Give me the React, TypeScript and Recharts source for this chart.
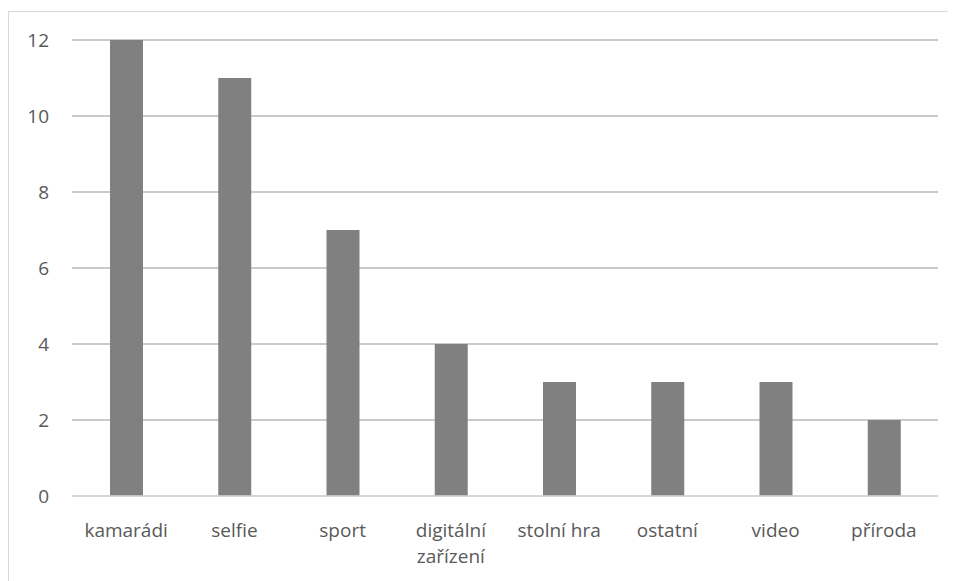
import React from "react";
import { BarChart, Bar, XAxis, YAxis, CartesianGrid } from "recharts";

const categories = [
  "kamarádi",
  "selfie",
  "sport",
  "digitální zařízení",
  "stolní hra",
  "ostatní",
  "video",
  "příroda",
];
const counts = [12, 11, 7, 4, 3, 3, 3, 2];
const yTicks = [0, 2, 4, 6, 8, 10, 12];

const data = categories.map((name, i) => ({ name, value: counts[i] }));

const FONT = "'Open Sans', sans-serif";
const TEXT_COLOR = "#595959";
const MAX_CHARS = 12;

// greedy word wrap by character count
function wrap(label: string): string[] {
  const words = label.split(" ");
  const lines: string[] = [];
  let cur = "";
  words.forEach((w) => {
    const next = cur ? cur + " " + w : w;
    if (next.length > MAX_CHARS && cur) {
      lines.push(cur);
      cur = w;
    } else {
      cur = next;
    }
  });
  if (cur) lines.push(cur);
  return lines;
}

const CategoryTick = (props: any) => {
  const { x, y, payload } = props;
  const lines = wrap(String(payload.value));
  return (
    <text
      x={x}
      y={y + 33}
      textAnchor="middle"
      fill={TEXT_COLOR}
      fontSize={19}
      fontFamily={FONT}
    >
      {lines.map((l, i) => (
        <tspan key={i} x={x} dy={i === 0 ? 0 : 26}>
          {l}
        </tspan>
      ))}
    </text>
  );
};

export default function App() {
  return (
    <div
      style={{
        marginTop: 3,
        width: 960,
        height: 580,
        border: "1px solid #d9d9d9",
        boxSizing: "border-box",
        background: "#fff",
      }}
    >
      <BarChart
        width={947}
        height={569}
        data={data}
        margin={{ top: 28, right: 18, bottom: 25, left: 0 }}
        barSize={33}
      >
        <CartesianGrid vertical={false} stroke="#b8b8b8" strokeWidth={1.5} />
        <XAxis
          dataKey="name"
          interval={0}
          height={60}
          axisLine={{ stroke: "#d9d9d9", strokeWidth: 1.5 }}
          tickLine={false}
          tick={<CategoryTick />}
        />
        <YAxis
          domain={[0, 12]}
          ticks={yTicks}
          width={63}
          axisLine={false}
          tickLine={false}
          tickSize={0}
          tickMargin={23}
          tick={{ fill: TEXT_COLOR, fontSize: 19, fontFamily: FONT }}
        />
        <Bar dataKey="value" fill="#808080" isAnimationActive={false} />
      </BarChart>
    </div>
  );
}
